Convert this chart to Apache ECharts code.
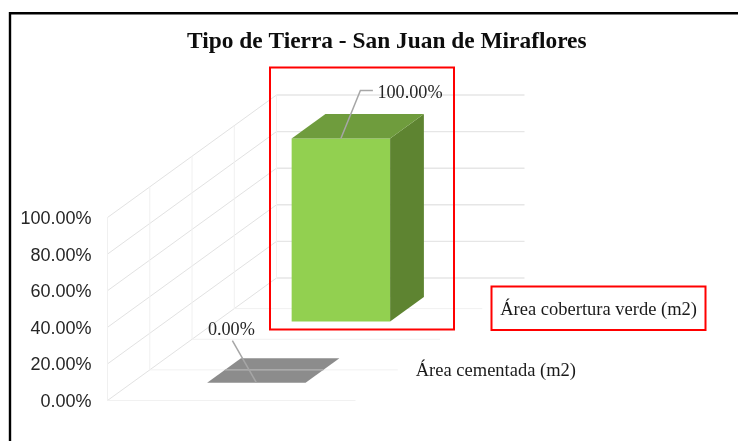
<!DOCTYPE html>
<html><head><meta charset="utf-8">
<style>html,body{margin:0;padding:0;background:#fff}#c{width:738px;height:441px}</style>
<script src="https://cdn.jsdelivr.net/npm/echarts@6/dist/echarts.min.js"></script>
</head><body><div id="c"></div>
<script>
const titleText = 'Tipo de Tierra - San Juan de Miraflores';
const categories = ['Área cementada (m2)', 'Área cobertura verde (m2)'];
const values = [0, 1];
const valueLabels = ['0.00%', '100.00%'];
const yTicks = [0, 0.2, 0.4, 0.6, 0.8, 1];
const depthTicks = [0, 0.25, 0.5, 0.75, 1];
const frontColors = ['#8C8C8C', '#92D050'];
const topColors = ['#8C8C8C', '#6F9C3D'];
const sideColors = ['#8C8C8C', '#5E8431'];

// Oblique projection of the 3D box
const DEPTH_DX = 169, DEPTH_DY = -122.5;
const BAR_X0 = 0.303, BAR_X1 = 0.70, BAR_D0 = 0.29, BAR_D1 = 0.69;
const SERIF = '"Liberation Serif","Times New Roman",serif';
const SANS = '"Liberation Sans",Arial,sans-serif';
const proj = (api, x, v, d) => {
  const c = api.coord([x, v]);
  return [c[0] + d * DEPTH_DX, c[1] + d * DEPTH_DY];
};
const seg = (a, b, color, width, z2) => ({
  type: 'line', z2: z2 || 0,
  shape: {x1: a[0], y1: a[1], x2: b[0], y2: b[1]},
  style: {stroke: color, lineWidth: width, fill: null}
});
const poly = (pts, color) => ({type: 'polygon', shape: {points: pts}, style: {fill: color, stroke: null}});

const chart = echarts.init(document.getElementById('c'), null, {renderer: 'canvas'});
chart.setOption({
  animation: false,
  backgroundColor: '#fff',
  title: {
    text: titleText, left: 182, top: 25,
    textStyle: {fontFamily: SERIF, fontWeight: 'bold', fontSize: 23.4, color: '#0D0D0D'}
  },
  grid: {left: 107.5, top: 217.5, width: 248, height: 183, containLabel: false},
  xAxis: {type: 'value', min: 0, max: 1, show: false},
  yAxis: {
    type: 'value', min: 0, max: 1, interval: 0.2,
    axisLine: {show: false}, axisTick: {show: false}, splitLine: {show: false},
    axisLabel: {
      margin: 16,
      formatter: v => '{t|' + (v * 100).toFixed(2) + '%}',
      rich: {t: {fontFamily: SANS, fontSize: 18, color: '#262626', padding: [3, 0, 0, 0]}}
    }
  },
  graphic: [
    {type: 'rect', z: 100, shape: {x: 10, y: 13.3, width: 900, height: 600},
     style: {fill: null, stroke: '#000', lineWidth: 2.4}},
    {type: 'rect', z: 100, shape: {x: 270, y: 67.5, width: 184, height: 262},
     style: {fill: null, stroke: '#FF0000', lineWidth: 2}},
    {type: 'rect', z: 100, shape: {x: 491.5, y: 286.5, width: 214, height: 43.5},
     style: {fill: null, stroke: '#FF0000', lineWidth: 2}}
  ],
  series: [
    { // left wall diagonals and back wall lines, one per value tick
      type: 'custom', z: 1, silent: true,
      data: yTicks.map(v => [0, v]),
      renderItem: (p, api) => {
        const v = api.value(1);
        return {type: 'group', children: [
          seg(proj(api, 0, v, 0), proj(api, 0, v, 1), '#E2E2E2', 1),
          seg(proj(api, 0, v, 1), proj(api, 1, v, 1), '#E6E6E6', 1.4)
        ]};
      }
    },
    { // left wall verticals and floor lines, one per depth tick
      type: 'custom', z: 1, silent: true,
      data: depthTicks.map(d => [0, d]),
      renderItem: (p, api) => {
        const d = api.value(1);
        const kids = [seg(proj(api, 0, 0, d), proj(api, 0, 1, d), '#F0F0F0', 1)];
        if (d < 1) kids.push(seg(proj(api, 0, 0, d), proj(api, 1, 0, d), '#F1F1F1', 1));
        return {type: 'group', children: kids};
      }
    },
    { // bars, leaders, value labels and depth-axis category labels
      type: 'custom', z: 2, silent: true,
      data: categories.map((c, i) => [i, values[i]]),
      renderItem: (p, api) => {
        const i = api.value(0), v = api.value(1);
        const n = categories.length;
        const d0 = (i + BAR_D0) / n, d1 = (i + BAR_D1) / n;
        const P = (x, val, d) => proj(api, x, val, d);
        const kids = [];
        if (v > 0) {
          kids.push(poly([P(BAR_X0, 0, d0), P(BAR_X1, 0, d0), P(BAR_X1, v, d0), P(BAR_X0, v, d0)], frontColors[i]));
          kids.push(poly([P(BAR_X1, 0, d0), P(BAR_X1, 0, d1), P(BAR_X1, v, d1), P(BAR_X1, v, d0)], sideColors[i]));
        }
        kids.push(poly([P(BAR_X0, v, d0), P(BAR_X1, v, d0), P(BAR_X1, v, d1), P(BAR_X0, v, d1)], topColors[i]));
        if (v === 0) {
          depthTicks.filter(d => d > d0 && d < d1).forEach(d =>
            kids.push(seg(P(BAR_X0, 0, d), P(BAR_X1, 0, d), '#B4B4B4', 1.2)));
        }
        const a = P((BAR_X0 + BAR_X1) / 2, v, d0);
        if (v > 0) {
          kids.push({type: 'polyline', shape: {points: [a, [a[0] + 19.5, a[1] - 48], [a[0] + 32, a[1] - 48]]},
            style: {stroke: '#A6A6A6', lineWidth: 1.5, fill: null}});
          kids.push({type: 'text', style: {text: valueLabels[i], x: a[0] + 36.5, y: a[1] - 45, align: 'left', verticalAlign: 'middle',
            font: '18.2px ' + SERIF, fill: '#262626'}});
        } else {
          kids.push(seg(a, [a[0] - 24, a[1] - 42], '#A6A6A6', 1.5));
          kids.push({type: 'text', style: {text: valueLabels[i], x: a[0] - 25, y: a[1] - 53, align: 'center', verticalAlign: 'middle',
            font: '18.2px ' + SERIF, fill: '#262626'}});
        }
        const e = P(1, 0, (i + 0.5) / n);
        kids.push({type: 'text', style: {text: categories[i], x: e[0] + 18, y: e[1] + 1.5, align: 'left', verticalAlign: 'middle',
          font: '18.5px ' + SERIF, fill: '#1A1A1A'}});
        return {type: 'group', children: kids};
      }
    }
  ]
});
</script></body></html>
